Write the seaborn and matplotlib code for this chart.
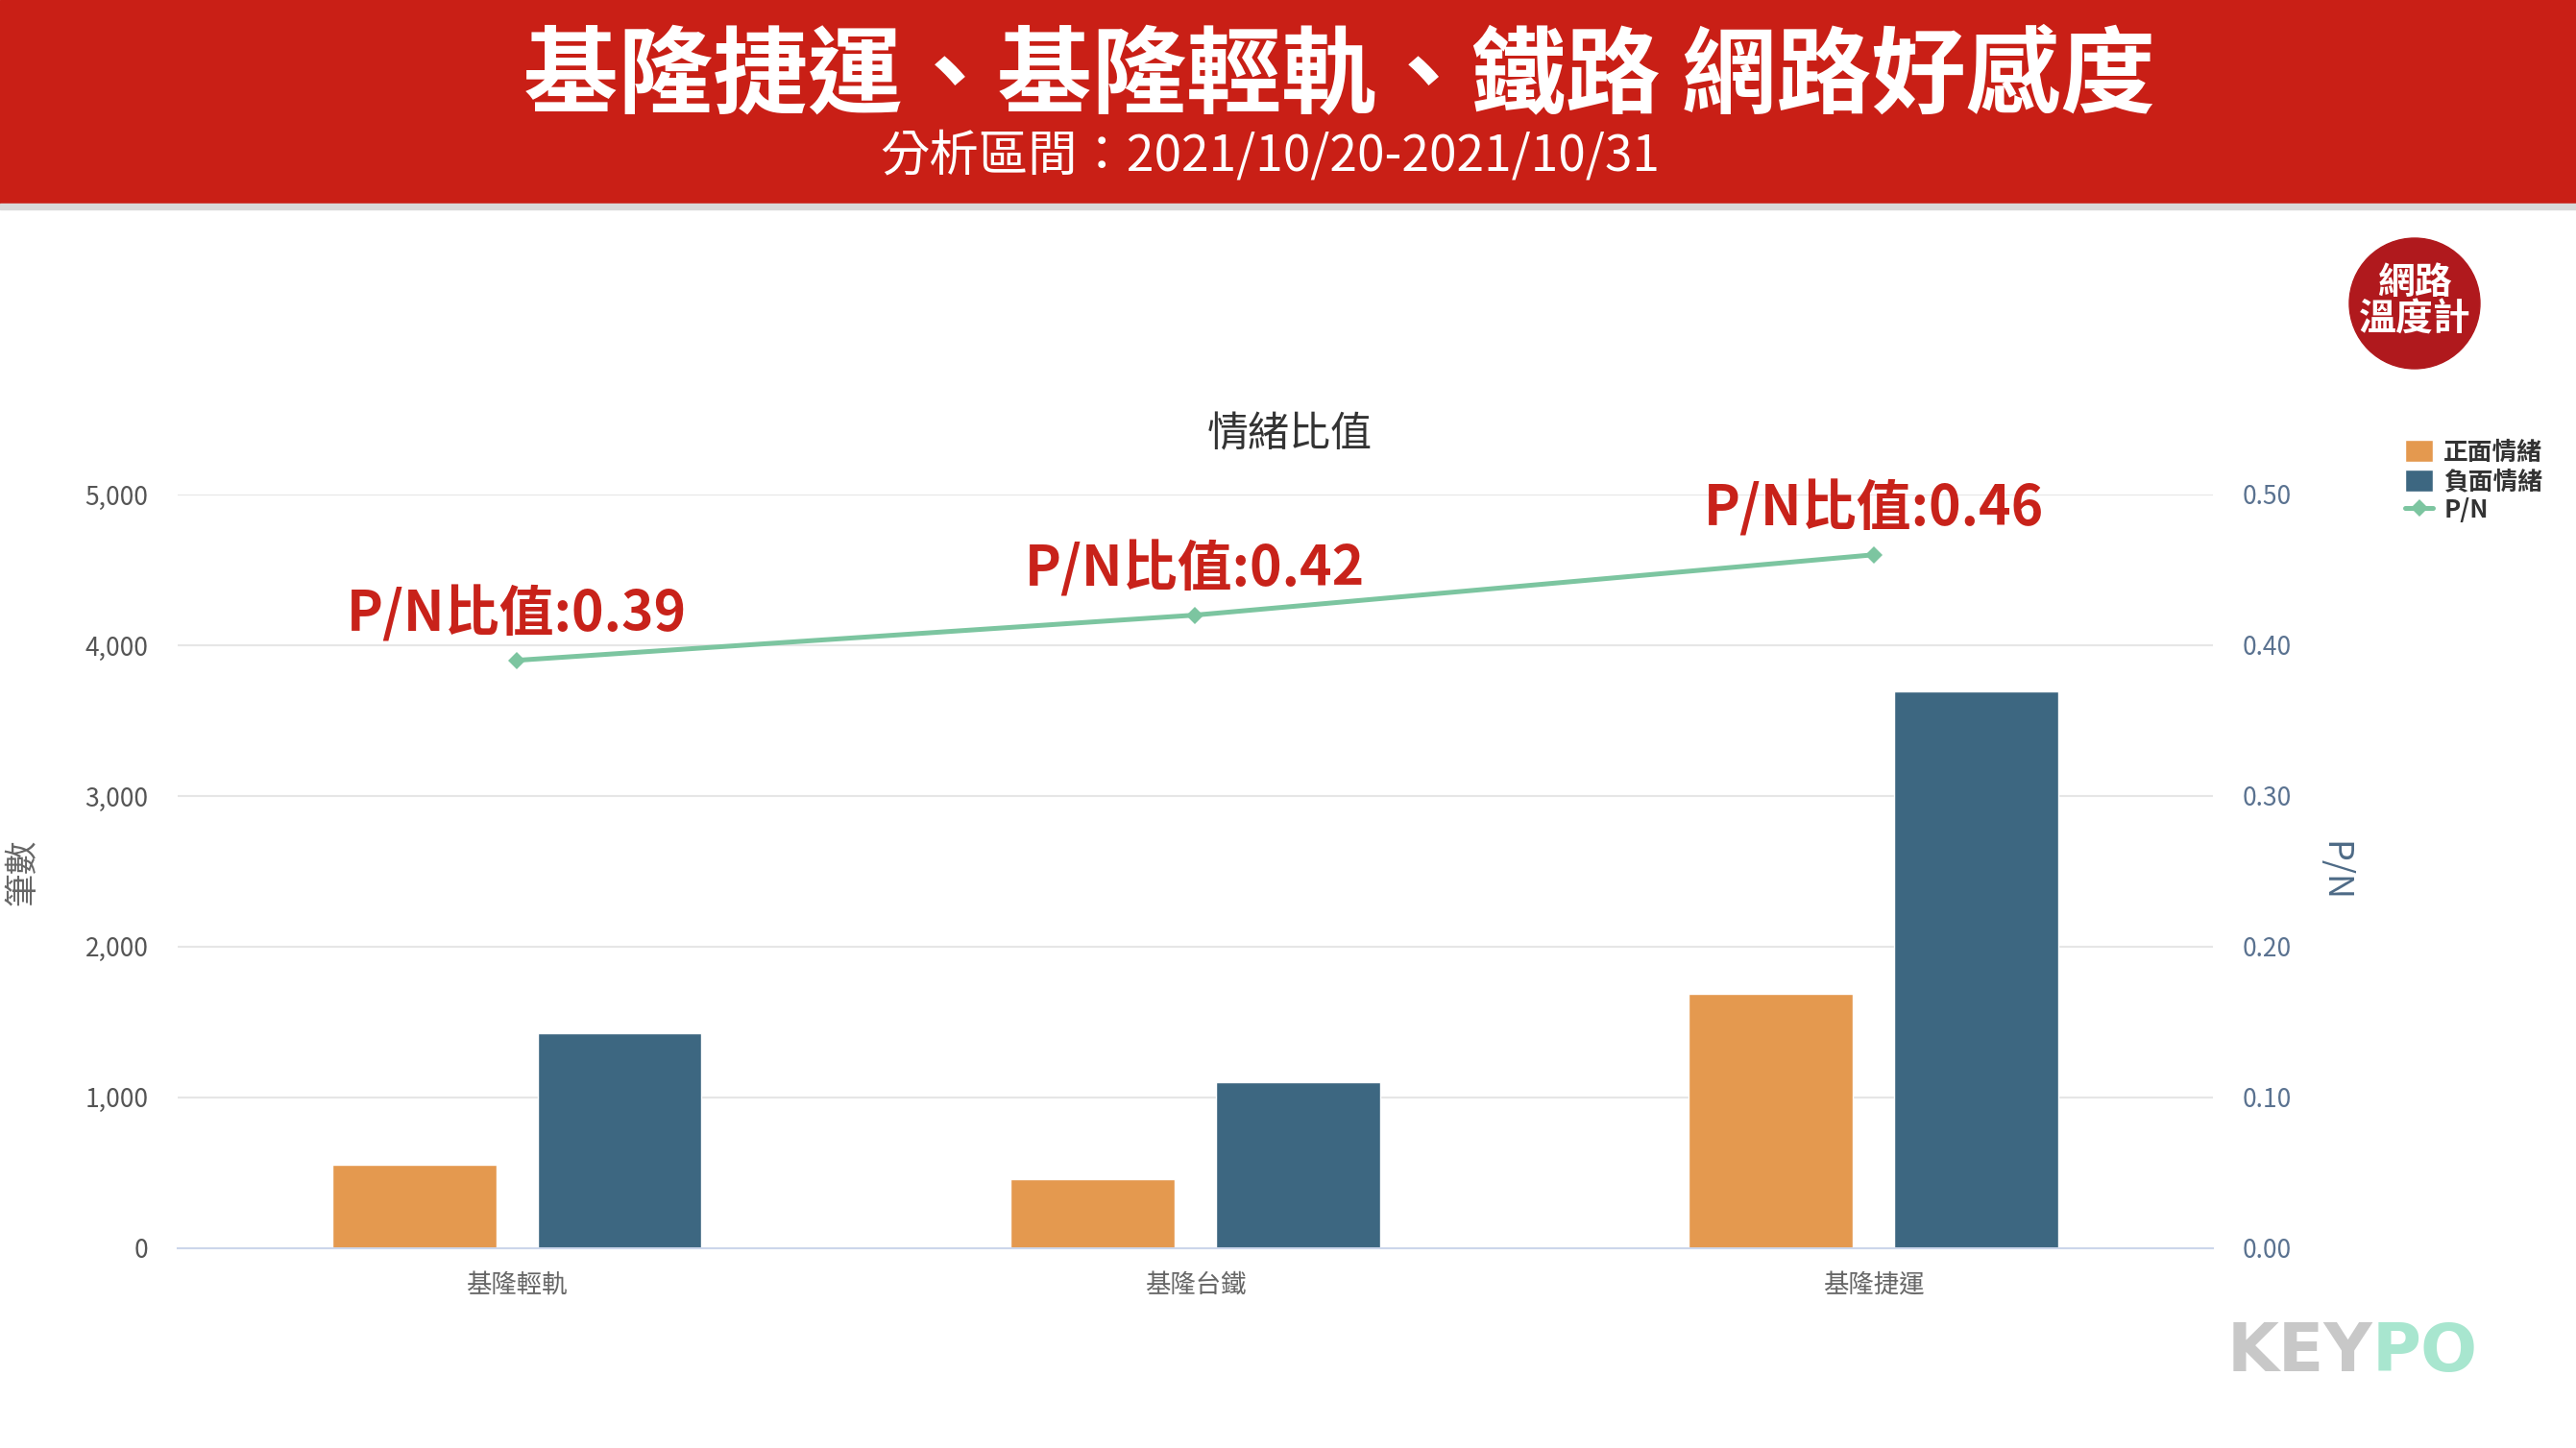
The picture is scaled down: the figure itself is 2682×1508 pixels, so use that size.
import numpy as np
import pandas as pd
import seaborn as sns
import matplotlib
matplotlib.use("Agg")
from matplotlib import pyplot as plt
from matplotlib.patches import Rectangle, Circle
from matplotlib.ticker import FuncFormatter, MultipleLocator, FixedLocator

# data
categories = ["基隆輕軌", "基隆台鐵", "基隆捷運"]
positive = [555, 457, 1688]
negative = [1427, 1100, 3693]
pn_ratio = [0.39, 0.42, 0.46]
series_names = ["正面情緒", "負面情緒"]

title = "基隆捷運、基隆輕軌、鐵路 網路好感度"
subtitle = "分析區間：2021/10/20-2021/10/31"
chart_title = "情緒比值"

sns.set_theme(style="white")
plt.rcParams["font.family"] = ["Noto Sans CJK TC", "DejaVu Sans"]

orange = "#E4994F"
blue = "#3D6781"
mint = "#7CC5A0"
red_txt = "#C8221A"

df = pd.DataFrame({
    "cat": categories * 2,
    "kind": [series_names[0]] * 3 + [series_names[1]] * 3,
    "count": positive + negative,
})

my_dpi = 100
fig = plt.figure(figsize=(2682 / my_dpi, 1508 / my_dpi), dpi=my_dpi)

# red header band
fig.patches.append(Rectangle((0, 1 - 212 / 1508), 1, 212 / 1508, transform=fig.transFigure,
                             color="#C91F16", zorder=0))
fig.patches.append(Rectangle((0, 1 - 218 / 1508), 1, 6 / 1508, transform=fig.transFigure,
                             color="#D9D9D9", zorder=0))
fig.text(0.52, 0.947, title, color="white", fontsize=71, fontweight="bold", ha="center", va="center")
fig.text(0.493, 0.892, subtitle, color="white", fontsize=37, ha="center", va="center")

ax = fig.add_axes([0.069, 0.138, 0.79, 0.5205])
sns.barplot(data=df, x="cat", y="count", hue="kind", hue_order=series_names,
            palette=[orange, blue], width=0.605, gap=0.2, ax=ax, saturation=1)
ax.set_ylim(0, 5000)
ax.yaxis.set_major_locator(MultipleLocator(1000))
ax.yaxis.set_major_formatter(FuncFormatter(lambda v, p: f"{int(v):,}"))
ax.grid(axis="y", color="#E6E6E6", linewidth=1.5)
ax.set_axisbelow(True)
for s in ["top", "left", "right"]:
    ax.spines[s].set_visible(False)
ax.spines["bottom"].set_color("#CCD6EB")
ax.spines["bottom"].set_linewidth(1.5)
ax.set_xlabel("")
ax.set_ylabel("")
ax.tick_params(axis="y", length=0, pad=22, labelsize=19, labelcolor="#555555")
ax.tick_params(axis="x", which="major", length=0, pad=18, labelsize=19, labelcolor="#666666")
ax.xaxis.set_minor_locator(FixedLocator([-0.5, 0.5, 1.5, 2.5]))
ax.tick_params(axis="x", which="minor", length=14, color="#CCD6EB", width=1.5)
ax.set_xlim(-0.5, 2.5)
bar_handles, bar_labels = ax.get_legend_handles_labels()
ax.get_legend().remove()

ax2 = ax.twinx()
sns.lineplot(x=np.arange(len(categories)), y=pn_ratio, ax=ax2, color=mint, linewidth=3.6,
             marker="D", markersize=9, markeredgewidth=0, label="P/N")
ax2.set_ylim(0, 0.5)
ax2.yaxis.set_major_locator(MultipleLocator(0.1))
ax2.yaxis.set_major_formatter(FuncFormatter(lambda v, p: f"{v:.2f}"))
ax2.tick_params(axis="y", length=0, pad=22, labelsize=19, labelcolor="#5A7290")
for s in ["top", "left", "right", "bottom"]:
    ax2.spines[s].set_visible(False)
ax2.set_ylabel("")
line_handles, line_labels = ax2.get_legend_handles_labels()
ax2.get_legend().remove()
ax.set_xlim(-0.5, 2.5)

for i, v in enumerate(pn_ratio):
    ax2.annotate(f"P/N比值:{v:.2f}", xy=(i, v), xytext=(0, 18), textcoords="offset pixels",
                 ha="center", va="bottom", fontsize=41, fontweight="bold", color=red_txt)

fig.text(0.5007, 0.6996, chart_title, fontsize=31, color="#333333", ha="center", va="center")
fig.text(0.009, 0.398, "筆數", fontsize=25, color="#666666", rotation=90, ha="center", va="center")
fig.text(0.906, 0.398, "P/N", fontsize=26, color="#4D6A86", rotation=270, ha="center", va="center")

leg = fig.legend(bar_handles + line_handles, bar_labels + line_labels, loc="upper left",
                 bbox_to_anchor=(0.929, 0.705), frameon=False, fontsize=18.5,
                 labelspacing=0.13, handlelength=1.1, handleheight=1.0, handletextpad=0.45,
                 borderpad=0)
for t in leg.get_texts():
    t.set_color("#333333")
    t.set_fontweight("bold")

# logo badge
fig.patches.append(Circle((25.14, 11.92), 0.68, transform=fig.dpi_scale_trans,
                          color="#B0191D", zorder=3))
fig.text(0.9375, 0.792, "網路\n溫度計", color="white", fontsize=28, fontweight="bold",
         ha="center", va="center", linespacing=1.0, zorder=4)

# KEYPO watermark
fig.text(0.921, 0.066, "KEY", color="#C8C8C8", fontsize=50, fontweight="bold",
         ha="right", va="center", family="DejaVu Sans")
fig.text(0.921, 0.066, "PO", color="#A8E6CF", fontsize=50, fontweight="bold",
         ha="left", va="center", family="DejaVu Sans")

plt.savefig("out.png", dpi=my_dpi)
